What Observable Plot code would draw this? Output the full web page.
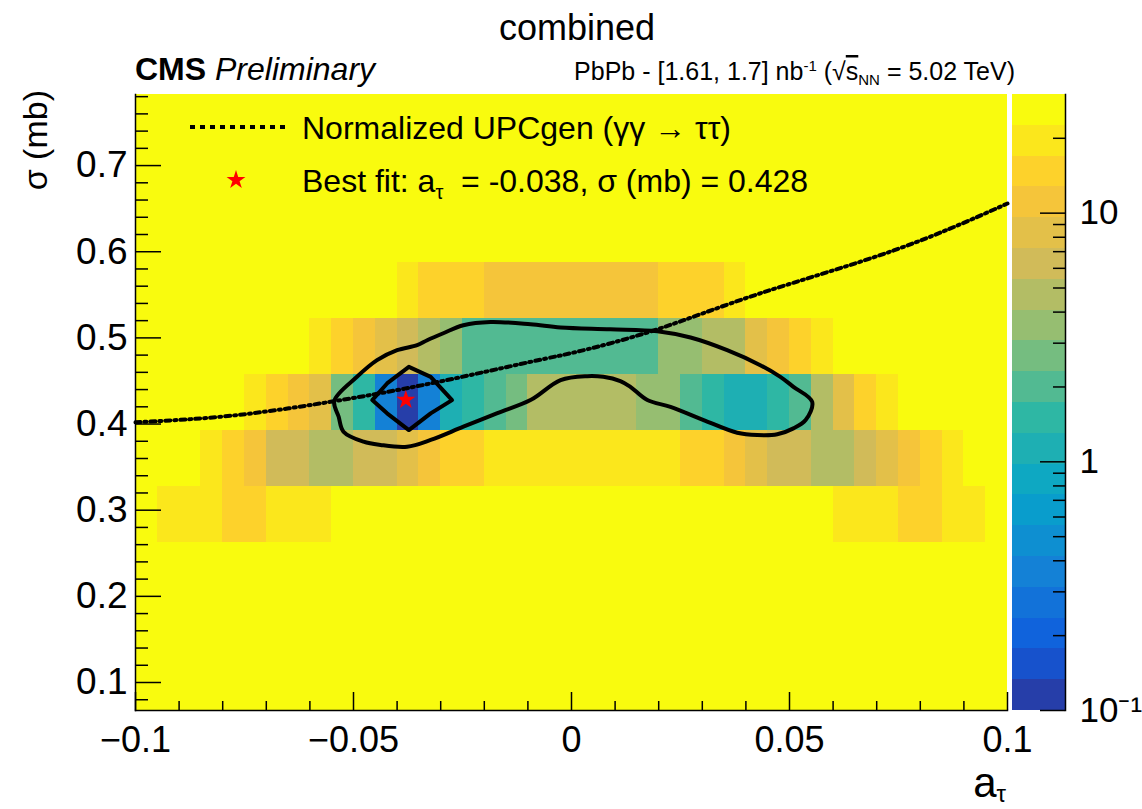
<!DOCTYPE html>
<html>
<head>
<meta charset="utf-8">
<script src="https://cdn.jsdelivr.net/npm/d3@7"></script>
<script src="https://cdn.jsdelivr.net/npm/@observablehq/plot@0.6"></script>
<style>
  body { margin: 0; background: #fff; font-family: "Liberation Sans", Arial, sans-serif; }
  #wrap { position: relative; width: 1142px; height: 809px; overflow: hidden; background: #fff; }
  #main { position: absolute; left: 0; top: 50px; width: 1142px; height: 759px; }
  #cbar { position: absolute; left: 1000px; top: 50px; width: 142px; height: 759px; }
  #annot { position: absolute; left: 0; top: 0; pointer-events: none; }
  #annot text { white-space: pre; font-family: "Liberation Sans", Arial, sans-serif; fill: #000; }
</style>
</head>
<body>
<div id="wrap">
  <div id="main"></div>
  <div id="cbar"></div>
  <svg id="annot" width="1142" height="809"></svg>
</div>
<script>
// ---------------- data ----------------
// bin centres of the likelihood scan
const aCenters = [-0.0975, -0.0925, -0.0875, -0.0825, -0.0775, -0.0725, -0.0675, -0.0625, -0.0575, -0.0525,
                  -0.0475, -0.0425, -0.0375, -0.0325, -0.0275, -0.0225, -0.0175, -0.0125, -0.0075, -0.0025,
                   0.0025,  0.0075,  0.0125,  0.0175,  0.0225,  0.0275,  0.0325,  0.0375,  0.0425,  0.0475,
                   0.0525,  0.0575,  0.0625,  0.0675,  0.0725,  0.0775,  0.0825,  0.0875,  0.0925,  0.0975];
const sigmaCenters = [0.1, 0.165, 0.23, 0.295, 0.36, 0.425, 0.49, 0.555, 0.62, 0.685, 0.75];
const aBinWidth = 0.005;
const sigmaBinWidth = 0.065;

// z values per sigma row (one entry per a bin)
const zRow0100 = [30,30,30,30,30,30,30,30,30,30,30,30,30,30,30,30,30,30,30,30,30,30,30,30,30,30,30,30,30,30,30,30,30,30,30,30,30,30,30,30];
const zRow0165 = [30,30,30,30,30,30,30,30,30,30,30,30,30,30,30,30,30,30,30,30,30,30,30,30,30,30,30,30,30,30,30,30,30,30,30,30,30,30,30,30];
const zRow0230 = [30,30,30,30,30,30,30,30,30,30,30,30,30,30,30,30,30,30,30,30,30,30,30,30,30,30,30,30,30,30,30,30,30,30,30,30,30,30,30,30];
const zRow0295 = [30, 19.5, 19.5, 19.5, 14.6, 14.6, 19.5, 19.5, 19.5,
                  30, 30, 30, 30, 30, 30, 30, 30, 30, 30, 30, 30, 30, 30, 30, 30, 30, 30, 30, 30, 30, 30, 30,
                  19.5, 19.5, 19.5, 14.6, 14.6, 19.5, 19.5, 30];
const zRow0360 = [30, 30, 30, 19.5, 14.6, 11, 6.2, 6.2, 4.7, 4.7, 6.2, 6.2, 8.3, 11, 14.6, 14.6,
                  19.5, 19.5, 19.5, 19.5, 19.5, 19.5, 19.5, 19.5, 19.5,
                  14.6, 14.6, 11, 8.3, 6.2, 6.2, 4.7, 4.7, 6.2, 8.3, 11, 14.6, 19.5, 30, 30];
const zRow0425 = [30, 30, 30, 30, 30, 19.5, 14.6, 11, 8.3, 2.65, 1.5, 0.36, 0.115, 0.36, 1.13, 1.5, 2.0, 2.65,
                  4.7, 4.7, 4.7, 4.7, 4.7, 3.5, 3.5, 2.0, 1.5, 1.13, 1.13, 1.5, 2.0, 4.7, 8.3, 14.6, 19.5,
                  30, 30, 30, 30, 30];
const zRow0490 = [30, 30, 30, 30, 30, 30, 30, 30, 19.5, 14.6, 11, 8.3, 6.2, 4.7, 3.5,
                  2.0, 2.0, 2.0, 2.0, 2.0, 2.0, 2.0, 2.0, 2.0,
                  3.5, 3.5, 4.7, 4.7, 8.3, 11, 14.6, 19.5, 30, 30, 30, 30, 30, 30, 30, 30];
const zRow0555 = [30, 30, 30, 30, 30, 30, 30, 30, 30, 30, 30, 30, 19.5, 14.6, 14.6, 14.6,
                  11, 11, 11, 11, 11, 11, 11, 11, 14.6, 14.6, 14.6, 19.5,
                  30, 30, 30, 30, 30, 30, 30, 30, 30, 30, 30, 30];
const zRow0620 = [30,30,30,30,30,30,30,30,30,30,30,30,30,30,30,30,30,30,30,30,30,30,30,30,30,30,30,30,30,30,30,30,30,30,30,30,30,30,30,30];
const zRow0685 = [30,30,30,30,30,30,30,30,30,30,30,30,30,30,30,30,30,30,30,30,30,30,30,30,30,30,30,30,30,30,30,30,30,30,30,30,30,30,30,30];
const zRow0750 = [30,30,30,30,30,30,30,30,30,30,30,30,30,30,30,30,30,30,30,30,30,30,30,30,30,30,30,30,30,30,30,30,30,30,30,30,30,30,30,30];

// contours [a, sigma]
const outerContour = [
  [-0.0544,0.4270],[-0.0492,0.4548],[-0.0446,0.4741],[-0.0400,0.4857],[-0.0354,0.4915],[-0.0331,0.4973],
  [-0.0294,0.5054],[-0.0248,0.5147],[-0.0186,0.5185],[-0.0094,0.5158],[-0.0025,0.5120],[0.0089,0.5100],
  [0.0197,0.5077],[0.0273,0.5004],[0.0357,0.4857],[0.0433,0.4683],[0.0479,0.4548],[0.0509,0.4432],
  [0.0552,0.4258],[0.0537,0.4046],[0.0509,0.3950],[0.0472,0.3881],[0.0426,0.3872],[0.0380,0.3899],
  [0.0303,0.4046],[0.0227,0.4200],[0.0174,0.4278],[0.0135,0.4432],[0.0112,0.4498],[0.0073,0.4548],
  [0.0036,0.4556],[-0.0025,0.4510],[-0.0094,0.4278],[-0.0170,0.4127],[-0.0248,0.3969],[-0.0323,0.3815],
  [-0.0377,0.3737],[-0.0438,0.3757],[-0.0477,0.3795],[-0.0523,0.3911],[-0.0534,0.4084]
];
const innerContour = [
  [-0.0373,0.4664],[-0.0323,0.4548],[-0.0274,0.4278],[-0.0323,0.4124],
  [-0.0373,0.3930],[-0.0423,0.4124],[-0.0457,0.4278],[-0.0423,0.4471]
];

// normalized UPCgen curve
const upcgenA     = [-0.1, -0.0782, -0.0553, -0.0323, -0.0094, 0.0021, 0.0197, 0.0433, 0.0739, 0.1];
const upcgenSigma = [0.4020, 0.4096, 0.4258, 0.4471, 0.4722, 0.4849, 0.5100, 0.5517, 0.6015, 0.6560];

// best fit
const bestFitA = -0.038;
const bestFitSigma = 0.428;

// axes ticks / labels
const xMajorTicks = [-0.1, -0.05, 0, 0.05, 0.1];
const xTickLabels = ["\u22120.1", "\u22120.05", "0", "0.05", "0.1"];
const xMinorTicks = [-0.09, -0.08, -0.07, -0.06, -0.04, -0.03, -0.02, -0.01, 0.01, 0.02, 0.03, 0.04, 0.06, 0.07, 0.08, 0.09];
const yMajorTicks = [0.1, 0.2, 0.3, 0.4, 0.5, 0.6, 0.7];
const yTickLabels = ["0.1", "0.2", "0.3", "0.4", "0.5", "0.6", "0.7"];
const yMinorTicks = [0.08, 0.12, 0.14, 0.16, 0.18, 0.22, 0.24, 0.26, 0.28, 0.32, 0.34, 0.36, 0.38,
                     0.42, 0.44, 0.46, 0.48, 0.52, 0.54, 0.56, 0.58, 0.62, 0.64, 0.66, 0.68, 0.72, 0.74, 0.76, 0.78];
const zMajorTicks = [0.1, 1, 10];
const zTickLabels = ["10\u207B\u00B9", "1", "10"];
const zMinorTicks = [0.2, 0.3, 0.4, 0.5, 0.6, 0.7, 0.8, 0.9, 2, 3, 4, 5, 6, 7, 8, 9, 20];
const zRange = [0.1, 30];
const nContours = 20;

// kBird palette stops (ROOT)
const kBirdStops = ["#352a87", "#0f5cdd", "#1481d6", "#06a4ca", "#2eb7a4", "#87bf77", "#d1bb59", "#fec832", "#f9fb0e"];

// ---------------- build ----------------
const zRows = [zRow0100, zRow0165, zRow0230, zRow0295, zRow0360, zRow0425, zRow0490, zRow0555, zRow0620, zRow0685, zRow0750];
const cells = [];
zRows.forEach((row, j) => row.forEach((z, i) => cells.push({a: aCenters[i], s: sigmaCenters[j], z})));
const upcgen = upcgenA.map((a, i) => ({a, s: upcgenSigma[i]}));

const ratio = zRange[1] / zRange[0];
const levels = d3.range(0, nContours + 1).map(k => zRange[0] * Math.pow(ratio, k / nContours));
const thresholds = levels.slice(1, -1);
const interp = d3.piecewise(d3.interpolateRgb, kBirdStops);
const bandColors = d3.range(nContours).map(k => interp((k + 1) / nContours));
const bands = d3.range(nContours).map(k => ({lo: levels[k], hi: levels[k + 1], mid: Math.sqrt(levels[k] * levels[k + 1])}));
const colorScale = {type: "threshold", domain: thresholds, range: bandColors};

const FONT = "Liberation Sans, Arial, sans-serif";
const W = 1142, H = 759, ML = 135, MR = 135, MT = 44, MB = 99;
const frameW = W - ML - MR, frameH = H - MT - MB;
const DASH = "5,4,2,4";

const main = Plot.plot({
  width: W, height: H,
  marginLeft: ML, marginRight: MR, marginTop: MT, marginBottom: MB,
  x: {domain: [-0.1, 0.1], axis: null},
  y: {domain: [0.0675, 0.7825], axis: null},
  color: colorScale,
  style: {fontFamily: FONT, fontSize: "36px", background: "transparent", overflow: "visible"},
  marks: [
    Plot.rect(cells, {
      x1: d => d.a - aBinWidth / 2, x2: d => d.a + aBinWidth / 2,
      y1: d => d.s - sigmaBinWidth / 2, y2: d => d.s + sigmaBinWidth / 2,
      fill: "z", shapeRendering: "crispEdges"
    }),
    Plot.line(outerContour, {curve: "catmull-rom-closed", stroke: "black", strokeWidth: 4}),
    Plot.line(innerContour, {curve: "linear-closed", stroke: "black", strokeWidth: 4}),
    Plot.line(upcgen, {x: "a", y: "s", curve: "natural", stroke: "black", strokeWidth: 4, strokeDasharray: DASH}),
    Plot.dot([{a: bestFitA, s: bestFitSigma}], {x: "a", y: "s", symbol: "star", fill: "red", stroke: "none", r: 6}),
    Plot.tickX(xMajorTicks, {x: d => d, insetTop: frameH - 18, stroke: "black", strokeWidth: 1.5}),
    Plot.tickX(xMinorTicks, {x: d => d, insetTop: frameH - 9, stroke: "black", strokeWidth: 1.5}),
    Plot.tickY(yMajorTicks, {y: d => d, insetRight: frameW - 26, stroke: "black", strokeWidth: 1.5}),
    Plot.tickY(yMinorTicks, {y: d => d, insetRight: frameW - 13, stroke: "black", strokeWidth: 1.5}),
    Plot.axisX({ticks: xMajorTicks, tickSize: 0, tickPadding: 16, fontSize: 36,
                tickFormat: d => xTickLabels[xMajorTicks.indexOf(d)], label: null}),
    Plot.axisY({ticks: yMajorTicks, tickSize: 0, tickPadding: 8, fontSize: 37,
                tickFormat: d => yTickLabels[yMajorTicks.indexOf(d)], label: null}),
    Plot.frame({anchor: "left", stroke: "black", strokeWidth: 1.5}),
    Plot.frame({anchor: "bottom", stroke: "black", strokeWidth: 1.5})
  ]
});
document.getElementById("main").appendChild(main);

const cbar = Plot.plot({
  width: 142, height: H,
  marginLeft: 12, marginRight: 77, marginTop: MT, marginBottom: MB,
  y: {type: "log", domain: zRange, axis: null},
  color: colorScale,
  style: {fontFamily: FONT, fontSize: "36px", background: "transparent", overflow: "visible"},
  marks: [
    Plot.barY(bands, {y1: "lo", y2: "hi", fill: "mid", shapeRendering: "crispEdges"}),
    Plot.tickY(zMajorTicks, {y: d => d, insetLeft: 53 - 25, stroke: "black", strokeWidth: 1.5}),
    Plot.tickY(zMinorTicks, {y: d => d, insetLeft: 53 - 12, stroke: "black", strokeWidth: 1.5}),
    Plot.axisY({anchor: "right", ticks: zMajorTicks, tickSize: 0, tickPadding: 14, fontSize: 35,
                tickFormat: d => zTickLabels[zMajorTicks.indexOf(d)], label: null}),
    Plot.frame({anchor: "right", stroke: "black", strokeWidth: 1.5})
  ]
});
document.getElementById("cbar").appendChild(cbar);

// ---------------- annotations (title, header, legend, axis titles) ----------------
const svg = d3.select("#annot");
svg.append("text").attr("x", 577).attr("y", 40).attr("text-anchor", "middle").attr("font-size", 36).text("combined");

const cms = svg.append("text").attr("x", 135).attr("y", 80).attr("font-size", 32);
cms.append("tspan").attr("font-weight", "bold").text("CMS");
cms.append("tspan").attr("font-style", "italic").text(" Preliminary");

const hdr = svg.append("text").attr("x", 1015).attr("y", 80).attr("text-anchor", "end").attr("font-size", 25);
hdr.append("tspan").text("PbPb - [1.61, 1.7] nb");
hdr.append("tspan").attr("dy", -9).attr("font-size", 15).text("-1");
hdr.append("tspan").attr("dy", 9).text(" (\u221A");
hdr.append("tspan").attr("text-decoration", "overline").text("s");
hdr.append("tspan").attr("dy", 5).attr("font-size", 15).text("NN");
hdr.append("tspan").attr("dy", -5).text(" = 5.02 TeV)");

// legend
svg.append("line").attr("x1", 190).attr("x2", 290).attr("y1", 127).attr("y2", 127)
  .attr("stroke", "black").attr("stroke-width", 4).attr("stroke-dasharray", "5,5");
svg.append("text").attr("x", 302).attr("y", 139).attr("font-size", 32).text("Normalized UPCgen (\u03B3\u03B3 \u2192 \u03C4\u03C4)");
svg.append("path").attr("d", d3.symbol(d3.symbolStar, 110)()).attr("transform", "translate(236,180)").attr("fill", "red");
const l2 = svg.append("text").attr("x", 302).attr("y", 192).attr("font-size", 32);
l2.append("tspan").text("Best fit: a");
l2.append("tspan").attr("dy", 7).attr("font-size", 20).text("\u03C4");
l2.append("tspan").attr("dy", -7).text("  = -0.038, \u03C3 (mb) = 0.428");

// axis titles
svg.append("text").attr("transform", "translate(47,90) rotate(-90)").attr("text-anchor", "end").attr("font-size", 34).text("\u03C3 (mb)");
const xt = svg.append("text").attr("x", 1006).attr("y", 797).attr("text-anchor", "end").attr("font-size", 42);
xt.append("tspan").text("a");
xt.append("tspan").attr("dy", 5).attr("font-size", 24).text("\u03C4");
</script>
</body>
</html>
